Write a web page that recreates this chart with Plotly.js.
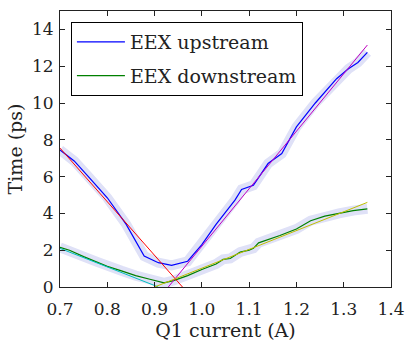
<!DOCTYPE html>
<html>
<head>
<meta charset="utf-8">
<script src="https://cdn.plot.ly/plotly-3.0.1.min.js"></script>
<style>html,body{margin:0;padding:0;background:#fff;}#chart{width:406px;height:346px;}</style>
</head>
<body>
<div id="chart"></div>
<script>
// Upstream measured time (ps) vs Q1 current (A)
const upX = [0.70, 0.73, 0.76, 0.80, 0.84, 0.878, 0.908, 0.936, 0.97, 1.00, 1.03, 1.07, 1.084, 1.109, 1.14, 1.169, 1.20, 1.24, 1.285, 1.31, 1.33, 1.35];
const upY = [7.45, 6.85, 6.0, 4.85, 3.4, 1.68, 1.32, 1.18, 1.4, 2.3, 3.4, 4.72, 5.3, 5.53, 6.71, 7.25, 8.7, 10.0, 11.32, 11.86, 12.2, 12.75];
// Downstream measured time (ps)
const downX = [0.70, 0.72, 0.75, 0.78, 0.80, 0.83, 0.86, 0.89, 0.92, 0.94, 0.97, 1.00, 1.03, 1.045, 1.06, 1.081, 1.10, 1.109, 1.12, 1.165, 1.20, 1.23, 1.26, 1.29, 1.32, 1.35];
const downY = [2.15, 2.0, 1.65, 1.35, 1.12, 0.88, 0.62, 0.42, 0.22, 0.35, 0.62, 0.95, 1.25, 1.5, 1.55, 1.9, 2.0, 2.1, 2.4, 2.8, 3.15, 3.6, 3.85, 4.0, 4.15, 4.25];
// Linear fits
const fitUpLeftX = [0.70, 0.959];
const fitUpLeftY = [7.55, 0];
const fitUpRightX = [0.929, 1.35];
const fitUpRightY = [0, 13.15];
const fitDownLeftX = [0.70, 0.908];
const fitDownLeftY = [2.1, 0];
const fitDownRightX = [0.90, 1.35];
const fitDownRightY = [0, 4.6];
const xTicks = [0.7, 0.8, 0.9, 1.0, 1.1, 1.2, 1.3, 1.4];
const xTickText = ['0.7', '0.8', '0.9', '1.0', '1.1', '1.2', '1.3', '1.4'];
const yTicks = [0, 2, 4, 6, 8, 10, 12, 14];

const bandColor = '#dfe1f7';
const traces = [
  {x: upX, y: upY, mode: 'lines', line: {color: bandColor, width: 10}, showlegend: false, hoverinfo: 'skip'},
  {x: downX, y: downY, mode: 'lines', line: {color: bandColor, width: 10}, showlegend: false, hoverinfo: 'skip'},
  {x: upX, y: upY, mode: 'lines', name: 'EEX upstream', legendgroup: 'a', line: {color: '#0000ff', width: 1.2}},
  {x: downX, y: downY, mode: 'lines', name: 'EEX downstream', legendgroup: 'b', line: {color: '#008000', width: 1.2}},
  {x: fitUpLeftX, y: fitUpLeftY, mode: 'lines', line: {color: '#ff0000', width: 1}, showlegend: false},
  {x: fitUpRightX, y: fitUpRightY, mode: 'lines', line: {color: '#c000c0', width: 1}, showlegend: false},
  {x: fitDownLeftX, y: fitDownLeftY, mode: 'lines', line: {color: '#00bfbf', width: 1}, showlegend: false},
  {x: fitDownRightX, y: fitDownRightY, mode: 'lines', line: {color: '#bfbf00', width: 1}, showlegend: false}
];

const font = {family: '"DejaVu Serif", "Liberation Serif", serif', size: 17, color: '#222'};
const bigFont = {family: '"DejaVu Serif", "Liberation Serif", serif', size: 19, color: '#222'};
const axisCommon = {
  showgrid: false, zeroline: false, showline: true, linecolor: '#222', linewidth: 1,
  mirror: 'ticks', ticks: 'inside', ticklen: 5, tickcolor: '#222', tickwidth: 1,
  tickfont: font
};
const layout = {
  width: 406, height: 346,
  margin: {l: 60, r: 15, t: 11, b: 59},
  paper_bgcolor: '#fff', plot_bgcolor: '#fff',
  font: font,
  xaxis: Object.assign({}, axisCommon, {range: [0.7, 1.4], tickvals: xTicks, ticktext: xTickText,
    ticklabelstandoff: 7,
    title: {text: 'Q1 current (A)', font: bigFont, standoff: 2}}),
  yaxis: Object.assign({}, axisCommon, {range: [0, 15], tickvals: yTicks, ticklabelstandoff: 2,
    title: {text: 'Time (ps)', font: bigFont, standoff: 4}}),
  legend: {x: 0.033, y: 0.96, xanchor: 'left', yanchor: 'top', bgcolor: '#fff',
    bordercolor: '#000', borderwidth: 1, font: bigFont, tracegroupgap: 6, traceorder: 'grouped',
    itemwidth: 48},
  showlegend: true
};
Plotly.newPlot('chart', traces, layout, {staticPlot: true});
</script>
</body>
</html>
